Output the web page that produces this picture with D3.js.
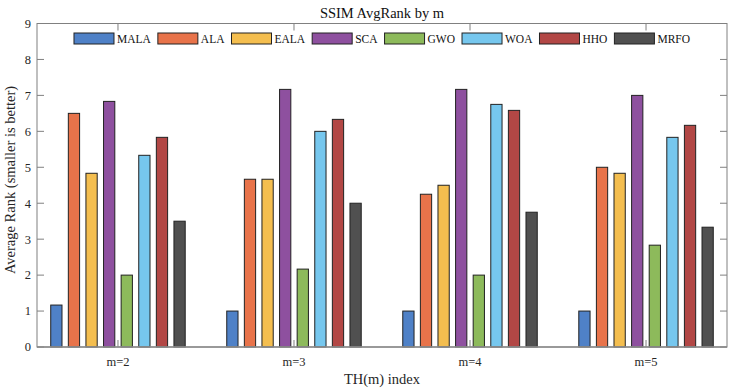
<!DOCTYPE html>
<html>
<head>
<meta charset="utf-8">
<script src="https://cdn.jsdelivr.net/npm/d3@7.9.0/dist/d3.min.js"></script>
<style>
  html, body { margin: 0; padding: 0; background: #fff; }
  svg { display: block; }
  svg text { font-family: 'Liberation Serif', 'Times New Roman', Times, 'DejaVu Serif', serif; }
</style>
</head>
<body>
<svg id="chart" width="738" height="392"></svg>
<script>
// === Data ===
const groups = ['m=2', 'm=3', 'm=4', 'm=5'];
const algos = ['MALA', 'ALA', 'EALA', 'SCA', 'GWO', 'WOA', 'HHO', 'MRFO'];
const colorsList = ['#4f81c7', '#e8734a', '#f4be4f', '#8e509f', '#8dba5b', '#76c7ee', '#b24745', '#505050'];

// average rank per algorithm, one entry per group (m=2..5)
const MALA = [1.167, 1.0, 1.0, 1.0];
const ALA  = [6.5, 4.667, 4.25, 5.0];
const EALA = [4.833, 4.667, 4.5, 4.833];
const SCA  = [6.833, 7.167, 7.167, 7.0];
const GWO  = [2.0, 2.167, 2.0, 2.833];
const WOA  = [5.333, 6.0, 6.75, 5.833];
const HHO  = [5.833, 6.333, 6.583, 6.167];
const MRFO = [3.5, 4.0, 3.75, 3.333];
const series = [MALA, ALA, EALA, SCA, GWO, WOA, HHO, MRFO];

const yTicks = [0, 1, 2, 3, 4, 5, 6, 7, 8, 9];

// === Layout ===
const svg = d3.select('#chart');
const margin = { left: 37, right: 11, top: 23.5, bottom: 45 };
const W = 738, H = 392;
const axisColor = '#808080';
const textColor = '#262626';

const x = d3.scaleLinear().domain([0.54, 4.46]).range([margin.left, W - margin.right]);
const y = d3.scaleLinear().domain([0, 9]).range([H - margin.bottom, margin.top]);
const unit = x(2) - x(1);

const color = d3.scaleOrdinal().domain(algos).range(colorsList);

// inner band scale, in data units around each group center
const inner = d3.scaleBand().domain(algos).range([-0.4, 0.4])
  .paddingInner(0.36).paddingOuter(0.18);

// === Bars ===
const barsG = svg.append('g');
groups.forEach((g, gi) => {
  algos.forEach((a, ai) => {
    const v = series[ai][gi];
    const x0 = x(gi + 1 + inner(a));
    barsG.append('rect')
      .attr('x', x0)
      .attr('y', y(v))
      .attr('width', inner.bandwidth() * unit)
      .attr('height', y(0) - y(v))
      .attr('fill', color(a))
      .attr('stroke', '#222')
      .attr('stroke-width', 1);
  });
});

// === Axes (box with inward ticks) ===
const tickLen = 7;
const xl = x.range()[0], xr = x.range()[1];
const yb = y(0), yt = y(9);

const axG = svg.append('g');
axG.append('rect')
  .attr('x', xl).attr('y', yt)
  .attr('width', xr - xl).attr('height', yb - yt)
  .attr('fill', 'none').attr('stroke', axisColor).attr('stroke-width', 1);

// y ticks left and right
yTicks.forEach(t => {
  axG.append('line').attr('x1', xl).attr('x2', xl + tickLen)
    .attr('y1', y(t)).attr('y2', y(t)).attr('stroke', axisColor);
  axG.append('line').attr('x1', xr).attr('x2', xr - tickLen)
    .attr('y1', y(t)).attr('y2', y(t)).attr('stroke', axisColor);
  axG.append('text')
    .attr('x', xl - 6).attr('y', y(t))
    .attr('dy', '0.35em')
    .attr('text-anchor', 'end')
    .attr('font-size', 12.5)
    .attr('fill', textColor)
    .text(t);
});

// x ticks bottom and top
groups.forEach((g, gi) => {
  const cx = x(gi + 1);
  axG.append('line').attr('x1', cx).attr('x2', cx)
    .attr('y1', yb).attr('y2', yb - tickLen).attr('stroke', axisColor);
  axG.append('line').attr('x1', cx).attr('x2', cx)
    .attr('y1', yt).attr('y2', yt + tickLen).attr('stroke', axisColor);
  axG.append('text')
    .attr('x', cx).attr('y', yb + 19)
    .attr('text-anchor', 'middle')
    .attr('font-size', 12.5)
    .attr('fill', textColor)
    .text(g);
});

// baseline slightly darker
axG.append('line').attr('x1', xl).attr('x2', xr)
  .attr('y1', yb).attr('y2', yb).attr('stroke', '#8c8c8c').attr('stroke-width', 1.5);

// === Titles ===
const cxPlot = (xl + xr) / 2;
svg.append('text')
  .attr('x', cxPlot).attr('y', 18)
  .attr('text-anchor', 'middle')
  .attr('font-size', 14.5)
  .attr('fill', '#111')
  .text('SSIM AvgRank by m');

svg.append('text')
  .attr('x', cxPlot).attr('y', 384)
  .attr('text-anchor', 'middle')
  .attr('font-size', 14.5)
  .attr('fill', textColor)
  .text('TH(m) index');

svg.append('text')
  .attr('transform', 'translate(15,180) rotate(-90)')
  .attr('text-anchor', 'middle')
  .attr('font-size', 14.5)
  .attr('fill', textColor)
  .text('Average Rank (smaller is better)');

// === Legend ===
const legend = svg.append('g');
const swW = 40, swH = 11, gapText = 3, gapItem = 7;
let lx = 0;
algos.forEach(a => {
  const it = legend.append('g').attr('transform', `translate(${lx},0)`);
  it.append('rect')
    .attr('x', 0).attr('y', 0)
    .attr('width', swW).attr('height', swH)
    .attr('fill', color(a)).attr('stroke', '#222').attr('stroke-width', 1);
  const txt = it.append('text')
    .attr('x', swW + gapText).attr('y', swH - 1)
    .attr('font-size', 11.5)
    .attr('fill', '#111')
    .text(a);
  const tw = txt.node().getComputedTextLength();
  lx += swW + gapText + tw + gapItem;
});
const legendW = lx - gapItem;
legend.attr('transform', `translate(${cxPlot - legendW / 2},33)`);
</script>
</body>
</html>
